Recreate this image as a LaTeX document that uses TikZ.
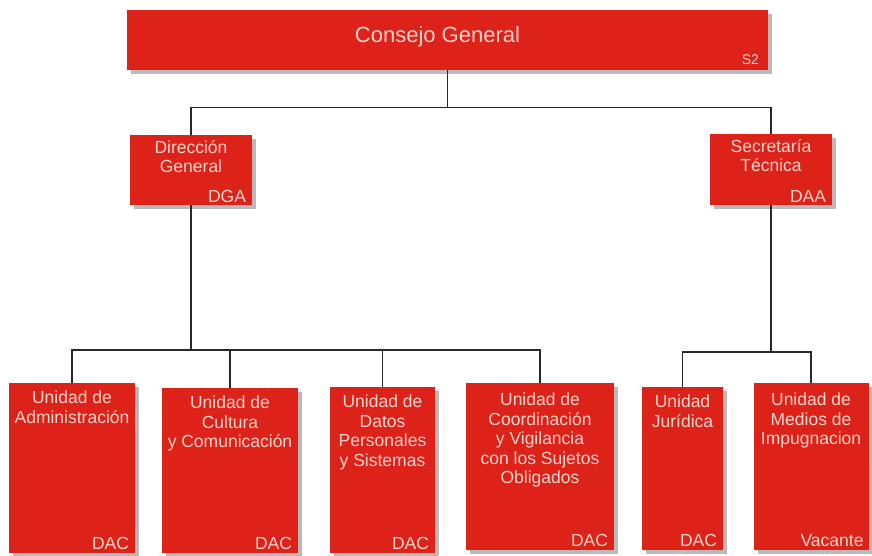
\documentclass[tikz,border=0pt]{standalone}
\usepackage{fontspec}
\setmainfont{Liberation Sans}
\usetikzlibrary{shadows,positioning}

\definecolor{boxred}{RGB}{221,34,26}
\definecolor{boxtext}{RGB}{250,212,202}
\definecolor{linegray}{RGB}{40,40,40}

\tikzset{
 unit/.style={anchor=north,fill=boxred,inner sep=0pt,
   drop shadow={shadow xshift=4pt,shadow yshift=-4pt,fill=black!60,opacity=.45}},
 untitle/.style={text=boxtext,align=center,inner sep=2pt,font=\fontsize{17.5}{19.5}\selectfont},
 uncode/.style={text=boxtext,inner sep=2pt,font=\fontsize{17.5}{19.5}\selectfont},
 link/.style={draw=linegray,line width=1.5pt}
}

\begin{document}
\begin{tikzpicture}[x=1pt,y=-1pt]
 \useasboundingbox[fill=white] (0,0) rectangle (872,556);

 % boxes
 \node[unit,minimum width=641pt,minimum height=60pt] (cg) at (447.5,10) {};
 \node[unit,minimum width=122pt,minimum height=70pt] (dg) at (191,135) {};
 \node[unit,minimum width=122pt,minimum height=71pt] (st) at (771,134) {};
 \node[unit,minimum width=126pt,minimum height=170pt] (u1) at (72,383) {};
 \node[unit,minimum width=136pt,minimum height=165pt] (u2) at (230,388) {};
 \node[unit,minimum width=105pt,minimum height=166pt] (u3) at (382.5,387) {};
 \node[unit,minimum width=148pt,minimum height=167pt] (u4) at (540,383) {};
 \node[unit,minimum width=81pt,minimum height=163pt] (u5) at (682.5,387) {};
 \node[unit,minimum width=115pt,minimum height=167pt] (u6) at (811,383) {};

 % texts
 \node[text=boxtext,font=\fontsize{22}{26}\selectfont] (cgt) at ([xshift=-10pt,yshift=3pt]cg.center) {Consejo General};
 \node[uncode,font=\fontsize{14}{16}\selectfont,above left=4pt and 7pt of cg.south east] (cgc) {S2};
 \node[untitle,below=3pt of dg.north] (dgt) {Dirección\\General};
 \node[uncode,above left=1pt and 4pt of dg.south east] (dgc) {DGA};
 \node[untitle,below=3pt of st.north] (stt) {Secretaría\\Técnica};
 \node[uncode,above left=1pt and 4pt of st.south east] (stc) {DAA};
 \node[untitle,below=6pt of u1.north] (u1t) {Unidad de\\Administración};
 \node[untitle,below=6pt of u2.north] (u2t) {Unidad de\\Cultura\\y Comunicación};
 \node[untitle,below=6pt of u3.north] (u3t) {Unidad de\\Datos\\Personales\\y Sistemas};
 \node[untitle,below=8pt of u4.north] (u4t) {Unidad de\\Coordinación\\y Vigilancia\\con los Sujetos\\Obligados};
 \node[untitle,below=6pt of u5.north] (u5t) {Unidad\\Jurídica};
 \node[untitle,below=8pt of u6.north] (u6t) {Unidad de\\Medios de\\Impugnacion};
 \foreach \u in {u1,u2,u3,u4,u5}
   \node[uncode,above left=2pt and 4pt of \u.south east] (\u c) {DAC};
 \node[uncode,above left=2pt and 3pt of u6.south east] (u6c) {Vacante};

 % lines
 \coordinate (topbar) at ([yshift=-37pt]cg.south);
 \coordinate (leftbar) at (0,350);
 \coordinate (rightbar) at (0,352);
 \draw[link] (cg.south) -- (topbar);
 \draw[link] (dg.north) |- (topbar) -| (st.north);
 \draw[link] (dg.south) -- (dg.south |- leftbar);
 \draw[link] (u1.north) |- (u4.north |- leftbar) -- (u4.north);
 \foreach \u in {u2,u3}
   \draw[link] (\u.north) -- (\u.north |- leftbar);
 \draw[link] (st.south) -- (st.south |- rightbar);
 \draw[link] (u5.north) |- (u6.north |- rightbar) -- (u6.north);
\end{tikzpicture}
\end{document}
